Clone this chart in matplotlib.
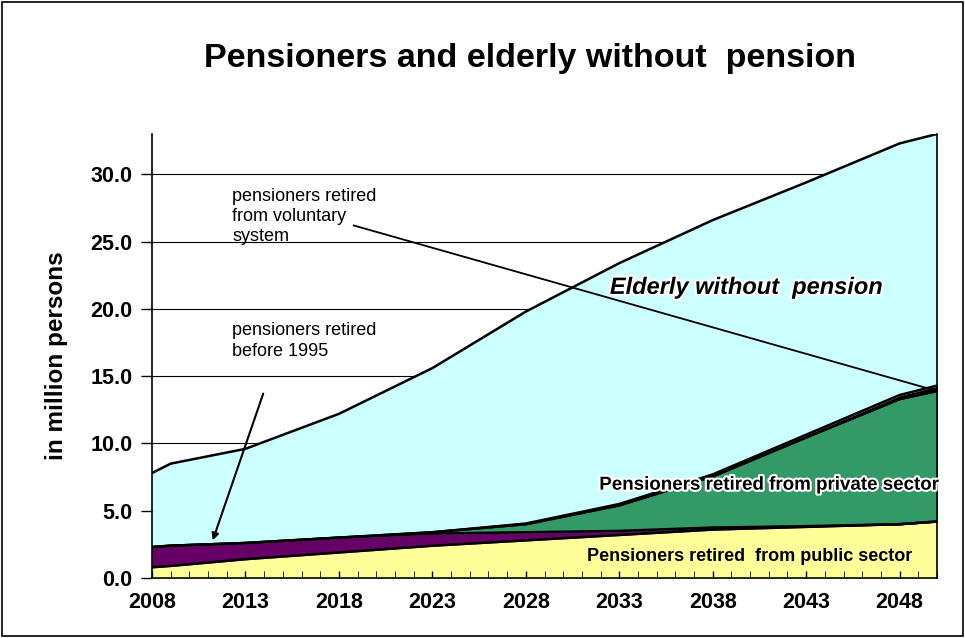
import numpy as np
import matplotlib
matplotlib.use("Agg")
import matplotlib.pyplot as plt
import matplotlib.patheffects as pe

plt.rcParams['font.family'] = ['Liberation Sans', 'DejaVu Sans']

years = [2008, 2009, 2013, 2018, 2023, 2028, 2033, 2038, 2043, 2048, 2050]
public = [0.8, 0.9, 1.4, 1.9, 2.4, 2.8, 3.2, 3.6, 3.8, 4.0, 4.2]
pre1995 = [1.5, 1.5, 1.2, 1.1, 0.9, 0.6, 0.3, 0.15, 0.05, 0.0, 0.0]
private = [0.0, 0.0, 0.0, 0.0, 0.1, 0.6, 1.9, 3.8, 6.6, 9.3, 9.7]
voluntary = [0.0, 0.0, 0.0, 0.0, 0.0, 0.05, 0.1, 0.15, 0.2, 0.3, 0.4]
total = [7.8, 8.5, 9.6, 12.2, 15.6, 19.8, 23.4, 26.6, 29.4, 32.3, 33.0]

xticks = [2008, 2013, 2018, 2023, 2028, 2033, 2038, 2043, 2048]
yticks = [0, 5, 10, 15, 20, 25, 30]

yrs = np.array(years)
l1 = np.array(public)
l2 = l1 + np.array(pre1995)
l3 = l2 + np.array(private)
l4 = l3 + np.array(voluntary)
l5 = np.array(total)

fig = plt.figure(figsize=(9.65, 6.38), dpi=100)
ax = fig.add_axes([152 / 965, 1 - 578 / 638, (937 - 152) / 965, (578 - 134) / 638])
fig.patches.append(plt.Rectangle((0.002, 0.003), 0.996, 0.994, transform=fig.transFigure,
                                 fill=False, edgecolor="black", lw=1.2))

for y in yticks[1:]:
    ax.axhline(y, color="black", lw=0.8, zorder=0)

ax.fill_between(yrs, 0, l1, color="#ffff99", zorder=1)
ax.fill_between(yrs, l1, l2, color="#660066", zorder=1)
ax.fill_between(yrs, l2, l3, color="#339966", zorder=1)
ax.fill_between(yrs, l3, l4, color="black", zorder=1)
ax.fill_between(yrs, l4, l5, color="#ccffff", zorder=1)
for top in (l1, l2, l3, l4, l5):
    ax.plot(yrs, top, color="black", lw=1.8, zorder=2)

ax.set_xlim(2008, 2050)
ax.set_ylim(0, 33)
ax.set_xticks(xticks)
ax.set_xticks(range(2008, 2051), minor=True)
ax.set_yticks(yticks)
ax.set_yticklabels([f"{v:.1f}" for v in yticks])
ax.tick_params(axis="both", labelsize=15.5, width=1)
ax.tick_params(axis="x", which="both", direction="in", length=5, pad=10)
ax.tick_params(axis="y", length=8, pad=6)
for lab in ax.get_xticklabels() + ax.get_yticklabels():
    lab.set_fontweight("bold")
ax.spines["top"].set_visible(False)
for s in ("left", "bottom", "right"):
    ax.spines[s].set_linewidth(1.2)
ax.set_ylabel("in million persons", fontsize=17.5, fontweight="bold", labelpad=16)

fig.text(0.549, 0.895, "Pensioners and elderly without  pension", ha="center",
         fontsize=24.5, fontweight="bold")

# annotations
fs = 13
ax.text(2012.3, 29.0, "pensioners retired\nfrom voluntary\nsystem", fontsize=fs,
        va="top", linespacing=1.25)
ax.plot([2018.8, 2050], [26.2, 13.9], color="black", lw=1.3, zorder=3)
ax.text(2012.3, 19.0, "pensioners retired\nbefore 1995", fontsize=fs, va="top",
        linespacing=1.25)
ax.annotate("", xy=(2011.2, 2.6), xytext=(2014.0, 13.9),
            arrowprops=dict(arrowstyle="-|>", color="black", lw=1.5), zorder=3)

outline = [pe.withStroke(linewidth=3, foreground="white")]
ax.text(2039.8, 21.6, "Elderly without  pension", fontsize=17, fontweight="bold",
        style="italic", ha="center", va="center", path_effects=outline)
ax.text(2041.0, 6.9, "Pensioners retired from private sector", fontsize=13.5,
        fontweight="bold", ha="center", va="center", path_effects=outline)
ax.text(2040.0, 1.6, "Pensioners retired  from public sector", fontsize=13,
        fontweight="bold", ha="center", va="center")

fig.savefig("out.png", dpi=100)
